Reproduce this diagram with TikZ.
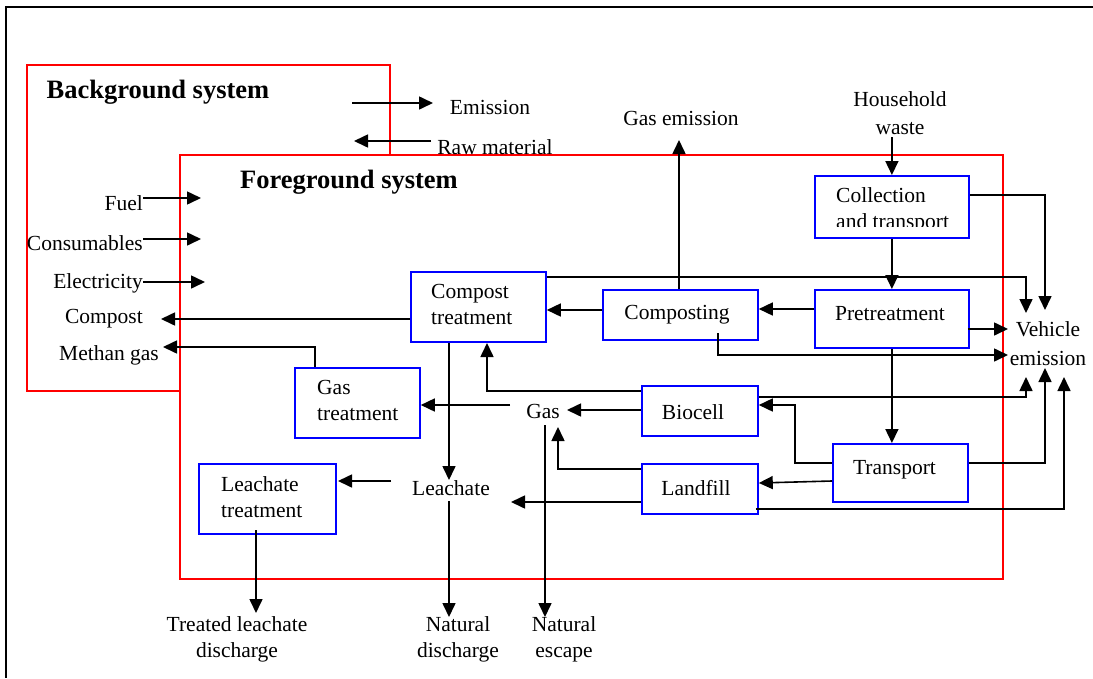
\documentclass[tikz,border=0pt]{standalone}
\usepackage{fontspec}
\setmainfont{Liberation Serif}
\usetikzlibrary{arrows.meta}
\begin{document}
\begin{tikzpicture}[x=1pt,y=-1pt,
  txt/.style={inner sep=0pt, font=\fontsize{21.5}{26}\selectfont},
  txtwide/.style={inner sep=0pt, font=\fontsize{21.5}{28.5}\selectfont},
  heading/.style={inner sep=0pt, font=\fontsize{26.5}{30}\selectfont\bfseries},
  procbox/.style={draw=blue, line width=1.8pt, inner sep=0pt, anchor=north west},
  sysbox/.style={draw=red, line width=1.6pt},
  arr/.style={line width=1.6pt, -{Triangle[length=14pt,width=13pt]}},
  ln/.style={line width=1.6pt}]
\useasboundingbox (0,0) rectangle (1093,678);

% outer frame (top and left edges)
\draw[line width=2.2pt] (1093,7) -- (6,7) -- (6,678);

% system boundaries
\draw[sysbox] (27,65) rectangle (390,391);
\draw[sysbox, fill=white] (180,155) rectangle (1003,579);
\node[heading] (bgs) at (158,92) {Background system};
\node[heading] (fgs) at (349,182) {Foreground system};

% process boxes
\node[procbox, minimum width=135pt, minimum height=70pt] (ct) at (410,271) {};
\node[procbox, minimum width=155pt, minimum height=50pt] (cg) at (602,289) {};
\node[procbox, minimum width=154pt, minimum height=58pt] (pt) at (814,289) {};
\node[procbox, minimum width=154pt, minimum height=62pt] (ca) at (814,175) {};
\node[procbox, minimum width=116pt, minimum height=50pt] (bc) at (641,385) {};
\node[procbox, minimum width=116pt, minimum height=50pt] (lf) at (641,463) {};
\node[procbox, minimum width=135pt, minimum height=58pt] (tr) at (832,443) {};
\node[procbox, minimum width=125pt, minimum height=70pt] (gt) at (294,367) {};
\node[procbox, minimum width=137pt, minimum height=70pt] (lt) at (198,463) {};

% box labels
\node[txt, anchor=west, align=left] (ctT) at (431,304.5) {Compost\\treatment};
\node[txt] (cgT) at (677,315) {Composting};
\node[txt] (ptT) at (890,314) {Pretreatment};
\begin{scope}
  \clip (814,175) rectangle (968,226);
  \node[txt, anchor=west, align=left] (caT) at (836,210) {Collection\\and transport};
\end{scope}
\node[txt] (bcT) at (693,412) {Biocell};
\node[txt] (lfT) at (696,488) {Landfill};
\node[txt] (trT) at (894.5,470) {Transport};
\node[txt, anchor=west, align=left] (gtT) at (317,400.5) {Gas\\treatment};
\node[txt, anchor=west, align=left] (ltT) at (221,497) {Leachate\\treatment};

% free labels
\node[txt] (emission) at (490,107) {Emission};
\node[txt] (raw) at (495,147) {Raw material};
\node[txt, anchor=east] (fuel) at (143,203) {Fuel};
\node[txt, anchor=east] (cons) at (143,243) {Consumables};
\node[txt, anchor=east] (elec) at (143,283) {Electricity};
\node[txt, anchor=east] (compost) at (143,319) {Compost};
\node[txt] (methan) at (109,355) {Methan gas};
\node[txt] (gasem) at (681,118) {Gas emission};
\node[txtwide, align=center] (hw) at (900,113) {Household\\waste};
\node[txtwide, align=center] (veh) at (1048,343.5) {Vehicle\\emission};
\node[txt] (gas) at (543,411) {Gas};
\node[txt] (leach) at (451,488) {Leachate};
\node[txt, align=center] (tld) at (237,639.5) {Treated leachate\\discharge};
\node[txt, align=center] (nd) at (458,639.5) {Natural\\discharge};
\node[txt, align=center] (ne) at (564,639.5) {Natural\\escape};

% free ends of the exchange arrows
\coordinate (emS) at (352,103);  \coordinate (emE) at (433,103);
\coordinate (rmS) at (431,141);  \coordinate (rmE) at (354,141);
\coordinate (fuE) at (201,198);
\coordinate (coE) at (201,239);
\coordinate (elE) at (205,282);

% exchanges with the background system
\draw[arr] (emS) -- (emE);
\draw[arr] (rmS) -- (rmE);
\draw[arr] (fuel.east |- fuE) -- (fuE);
\draw[arr] (cons.east |- coE) -- (coE);
\draw[arr] (elec.east |- elE) -- (elE);
\draw[arr] (ct.west |- 0,319) -- (161,319);
\draw[arr] (gt.north -| 315,0) -- (315,347) -- (163,347);

% main waste flow
\draw[arr] (ca.north |- 0,137) -- (ca.north);
\draw[arr] (ca.south) -- (pt.north);
\draw[arr] (pt.west |- 0,309) -- (cg.east |- 0,309);
\draw[arr] (cg.west |- 0,310) -- (ct.east |- 0,310);
\draw[arr] (cg.north -| 679,0) -- (679,140);
\draw[arr] (pt.south) -- (pt.south |- tr.north);
\draw[arr] (tr.west |- 0,463) -- (795,463) -- (795,405) -- (bc.east |- 0,405);
\draw[arr] (tr.west |- 0,481) -- (lf.east |- 0,483);

% vehicle emissions
\draw[arr] (ca.east |- 0,195) -- (1045,195) -- (1045,310);
\draw[arr] (ct.east |- 0,277) -- (1026,277) -- (1026,313);
\draw[arr] ([xshift=-2pt]pt.east |- 0,329) -- (1008,329);
\draw[arr] (718,333) -- (718,355) -- (1008,355);
\draw[arr] (bc.east |- 0,397) -- (1026,397) -- (1026,377);
\draw[arr] (tr.east |- 0,463) -- (1045,463) -- (1045,368);
\draw[arr] ([xshift=-3pt]lf.east |- 0,509) -- (1064,509) -- (1064,377);

% gas routes
\draw[arr] (bc.west |- 0,410) -- (567,410);
\draw[arr] (lf.west |- 0,469) -- (558,469) -- (558,427);
\draw[arr] (bc.west |- 0,391) -- (487,391) -- (487,343);
\draw[arr] (510,405) -- (gt.east |- 0,405);
\draw[arr] (545,425) -- (545,617);

% leachate routes
\draw[arr] (ct.south -| 449,0) -- (449,480);
\draw[arr] (lf.west |- 0,502) -- (511,502);
\draw[arr] (391,481) -- (338,481);
\draw[arr] (449,501) -- (449,617);
\draw[arr] (256,530) -- (256,613);
\end{tikzpicture}
\end{document}
